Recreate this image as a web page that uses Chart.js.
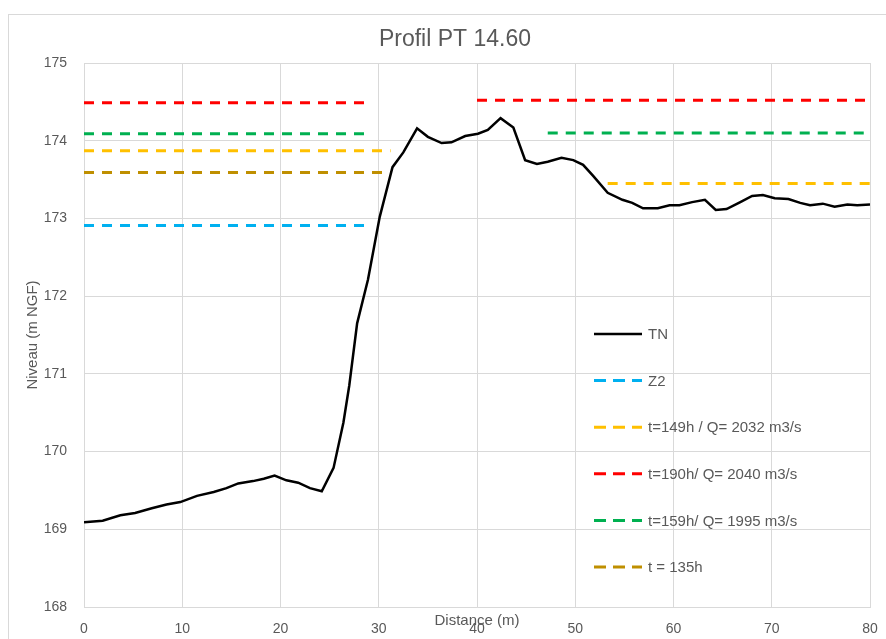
<!DOCTYPE html>
<html>
<head>
<meta charset="utf-8">
<title>Profil PT 14.60</title>
<script src="https://cdn.jsdelivr.net/npm/chart.js@4.4.1/dist/chart.umd.min.js"></script>
<style>
  html, body { margin: 0; padding: 0; background: #ffffff; }
  #wrap { position: relative; width: 886px; height: 639px; overflow: hidden; }
  #frame { position: absolute; left: 8px; top: 14px; width: 900px; height: 700px;
           border-left: 1px solid #d9d9d9; border-top: 1px solid #d9d9d9; box-sizing: border-box; }
  canvas { position: absolute; left: 0; top: 0; }
</style>
</head>
<body>
<div id="wrap">
  <div id="frame"></div>
  <canvas id="chart" width="886" height="639"></canvas>
</div>
<script>
// Ground profile (TN): distance along the section (m) and ground level (m NGF)
const tnDistance = [0, 1.9, 3.7, 5.2, 6.9, 8.4, 9.8, 11.5, 13.2, 14.5, 15.7, 17.2, 18.3, 19.4,
  20.6, 21.8, 23.0, 24.2, 25.4, 26.4, 27.0, 27.8, 28.9, 30.1, 31.4, 32.5, 33.9, 35.0, 36.4,
  37.4, 38.8, 40.1, 41.1, 42.4, 43.7, 44.9, 46.1, 47.2, 48.6, 49.8, 50.8, 51.8, 53.3, 54.8,
  55.8, 56.9, 58.4, 59.6, 60.6, 61.9, 63.2, 64.3, 65.4, 66.8, 68.0, 69.1, 70.3, 71.7, 72.9,
  73.9, 75.2, 76.4, 77.7, 78.7, 80.0];
const tnLevel = [169.09, 169.11, 169.18, 169.21, 169.27, 169.32, 169.35, 169.43, 169.48, 169.53,
  169.59, 169.62, 169.65, 169.69, 169.63, 169.60, 169.53, 169.49, 169.79, 170.37, 170.85,
  171.65, 172.21, 173.02, 173.66, 173.85, 174.16, 174.05, 173.97, 173.98, 174.06, 174.09,
  174.14, 174.29, 174.17, 173.75, 173.70, 173.73, 173.78, 173.75, 173.69, 173.55, 173.33,
  173.24, 173.20, 173.13, 173.13, 173.17, 173.17, 173.21, 173.24, 173.11, 173.12, 173.21,
  173.29, 173.30, 173.26, 173.25, 173.20, 173.17, 173.19, 173.15, 173.18, 173.17, 173.18];

// Water levels: each series is a list of [start, end] distance spans with one level per span
const z2Spans = [[0, 29.3]];
const z2Levels = [172.91];
const t149Spans = [[0, 31.2], [53.3, 80]];
const t149Levels = [173.87, 173.45];
const t190Spans = [[0, 29.3], [40, 80]];
const t190Levels = [174.49, 174.52];
const t159Spans = [[0, 29.3], [47.2, 80]];
const t159Levels = [174.09, 174.10];
const t135Spans = [[0, 31.3]];
const t135Levels = [173.59];

const seriesLabels = ['TN', 'Z2', 't=149h / Q= 2032 m3/s', 't=190h/ Q= 2040 m3/s',
  't=159h/ Q= 1995 m3/s', 't = 135h'];
const chartTitle = 'Profil PT 14.60';

// Axis ticks
const xTicks = [0, 10, 20, 30, 40, 50, 60, 70, 80];
const yTicks = [168, 169, 170, 171, 172, 173, 174, 175];

const TEXT = '#595959';
const GRID = '#d9d9d9';
const FONT = "'Liberation Sans', Arial, sans-serif";

function spansToPoints(spans, levels) {
  const pts = [];
  spans.forEach((s, i) => {
    if (i > 0) pts.push({ x: (spans[i - 1][1] + s[0]) / 2, y: null });
    pts.push({ x: s[0], y: levels[i] }, { x: s[1], y: levels[i] });
  });
  return pts;
}

function dashed(label, spans, levels, color) {
  return {
    label: label,
    data: spansToPoints(spans, levels),
    borderColor: color,
    backgroundColor: color,
    borderWidth: 3,
    borderDash: [10, 8],
    pointRadius: 0,
    spanGaps: false,
    tension: 0
  };
}

// Chart title, centred over the whole frame
const frameTitle = {
  id: 'frameTitle',
  afterDraw(chart) {
    const { ctx, chartArea } = chart;
    ctx.save();
    ctx.font = '23px ' + FONT;
    ctx.fillStyle = TEXT;
    ctx.textAlign = 'center';
    ctx.textBaseline = 'middle';
    ctx.fillText(chartTitle, chartArea.left + 371, chartArea.top - 23);
    ctx.restore();
  }
};

// Legend drawn inside the plot area, one row per series
const insideLegend = {
  id: 'insideLegend',
  afterDatasetsDraw(chart) {
    const { ctx, chartArea } = chart;
    const x0 = chartArea.left + 510;
    const rowTop = chartArea.top + 271;
    const rowGap = 46.6;
    ctx.save();
    ctx.font = '15px ' + FONT;
    ctx.textBaseline = 'middle';
    ctx.textAlign = 'left';
    chart.data.datasets.forEach((ds, i) => {
      const y = rowTop + i * rowGap;
      ctx.beginPath();
      ctx.strokeStyle = ds.borderColor;
      ctx.lineWidth = ds.borderWidth;
      ctx.setLineDash(ds.borderDash && ds.borderDash.length ? [12, 7] : []);
      ctx.moveTo(x0, y);
      ctx.lineTo(x0 + 48, y);
      ctx.stroke();
      ctx.setLineDash([]);
      ctx.fillStyle = TEXT;
      ctx.fillText(ds.label, x0 + 54, y + 1);
    });
    ctx.restore();
  }
};

const whiteBg = {
  id: 'whiteBg',
  beforeDraw(chart) {
    const { ctx, chartArea } = chart;
    ctx.save();
    ctx.fillStyle = '#ffffff';
    ctx.fillRect(chartArea.left, chartArea.top, chartArea.right - chartArea.left, chartArea.bottom - chartArea.top);
    ctx.restore();
  }
};

new Chart(document.getElementById('chart'), {
  type: 'line',
  data: {
    datasets: [
      {
        label: seriesLabels[0],
        data: tnDistance.map((d, i) => ({ x: d, y: tnLevel[i] })),
        borderColor: '#000000',
        backgroundColor: '#000000',
        borderWidth: 2.5,
        borderDash: [],
        pointRadius: 0,
        tension: 0
      },
      dashed(seriesLabels[1], z2Spans, z2Levels, '#00b0f0'),
      dashed(seriesLabels[2], t149Spans, t149Levels, '#ffc000'),
      dashed(seriesLabels[3], t190Spans, t190Levels, '#ff0000'),
      dashed(seriesLabels[4], t159Spans, t159Levels, '#00b050'),
      dashed(seriesLabels[5], t135Spans, t135Levels, '#bf8f00')
    ]
  },
  options: {
    responsive: false,
    animation: false,
    devicePixelRatio: 1,
    layout: { padding: { left: 0, right: 16, top: 63, bottom: 0 } },
    plugins: {
      legend: { display: false },
      tooltip: { enabled: false },
      title: { display: false }
    },
    scales: {
      x: {
        type: 'linear',
        min: 0,
        max: 80,
        afterBuildTicks: s => { s.ticks = xTicks.map(v => ({ value: v })); },
        afterFit: s => { s.height = 32; s.paddingLeft = 0; s.paddingRight = 0; },
        ticks: { color: TEXT, font: { family: FONT, size: 14 }, padding: 14, maxRotation: 0 },
        grid: { color: GRID, lineWidth: 1, drawTicks: false },
        border: { color: GRID },
        title: {
          display: true,
          text: 'Distance (m)',
          color: TEXT,
          font: { family: FONT, size: 15 },
          padding: { top: 0, bottom: 9 }
        }
      },
      y: {
        type: 'linear',
        min: 168,
        max: 175,
        afterBuildTicks: s => { s.ticks = yTicks.map(v => ({ value: v })); },
        afterFit: s => { s.width = 84; },
        ticks: { color: TEXT, font: { family: FONT, size: 14 }, padding: 17 },
        grid: { color: GRID, lineWidth: 1, drawTicks: false },
        border: { color: GRID },
        title: {
          display: true,
          text: 'Niveau (m NGF)',
          color: TEXT,
          font: { family: FONT, size: 15 },
          padding: { top: 24, bottom: 0 }
        }
      }
    }
  },
  plugins: [whiteBg, insideLegend, frameTitle]
});
</script>
</body>
</html>
